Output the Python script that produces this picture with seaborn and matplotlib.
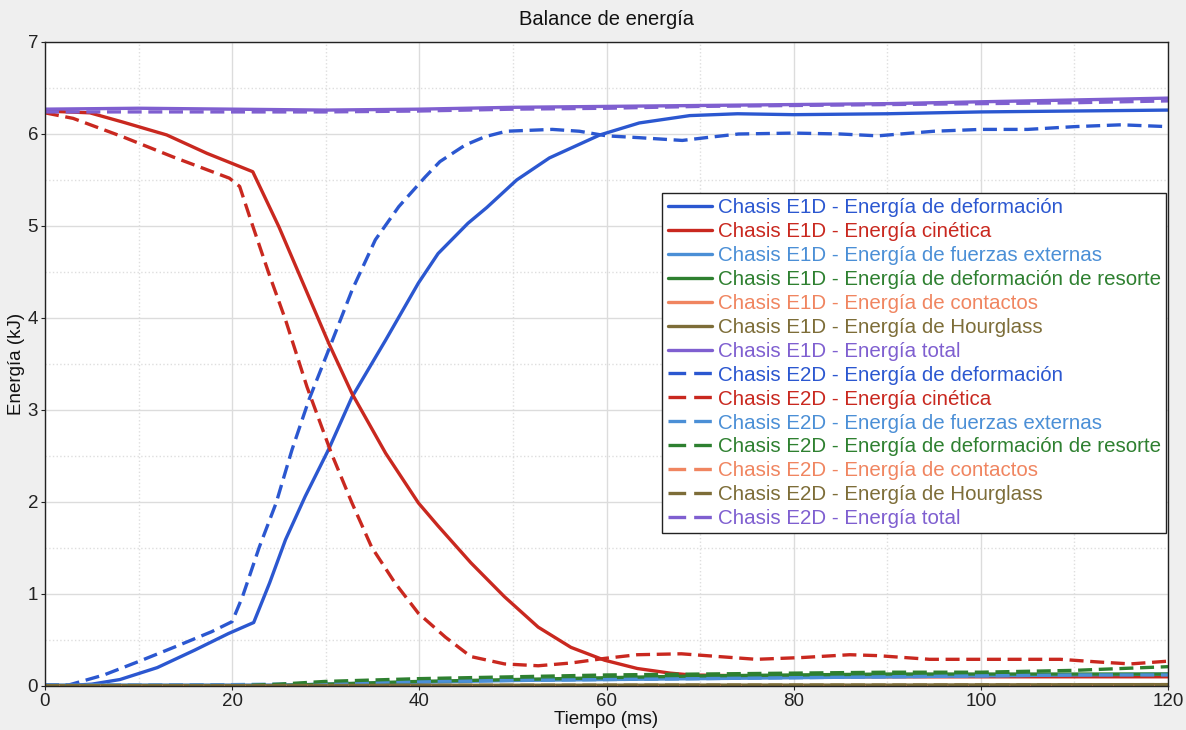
import matplotlib
matplotlib.use("Agg")
import matplotlib.pyplot as plt
from matplotlib.ticker import MultipleLocator
import seaborn as sns

# ---------------- data ----------------
t_def1 = [0, 2.5, 5, 8, 12, 16, 19.6, 22.3, 24, 25.7, 27.8, 30.3, 32.8, 36.4, 39.9, 42,
          45.2, 47.2, 50.4, 53.9, 59.3, 63.5, 68.9, 74, 80, 90, 100, 110, 120]
e_def1 = [0, 0.005, 0.02, 0.07, 0.2, 0.39, 0.57, 0.69, 1.12, 1.59, 2.06, 2.57, 3.14, 3.76, 4.38, 4.7,
          5.03, 5.2, 5.5, 5.74, 5.99, 6.12, 6.2, 6.22, 6.21, 6.22, 6.24, 6.25, 6.26]

t_def2 = [0, 2.5, 6.3, 10.1, 14, 17.8, 20, 21.1, 22.9, 24.7, 26.4, 28.2, 30.3, 32.8, 35.3, 37.8,
          40.6, 42.2, 44.9, 47, 49.3, 54.2, 57.1, 60, 63.5, 68.1, 70.6, 74.1, 80, 85, 89, 95,
          100, 105, 110, 115, 120]
e_def2 = [0.01, 0.01, 0.12, 0.27, 0.43, 0.59, 0.7, 0.97, 1.51, 1.99, 2.57, 3.11, 3.65, 4.3, 4.85, 5.21,
          5.53, 5.7, 5.88, 5.97, 6.03, 6.05, 6.03, 5.98, 5.96, 5.93, 5.96, 6.0, 6.01, 6.0, 5.98, 6.03,
          6.05, 6.05, 6.08, 6.1, 6.08]

t_kin1 = [0, 4.8, 8.3, 13, 17.3, 22.2, 25, 30.3, 32.8, 36.4, 39.9, 42, 45.5, 49.1, 52.7, 56.2,
          59.8, 63.3, 66.8, 69, 75, 80, 90, 100, 110, 120]
e_kin1 = [6.25, 6.23, 6.13, 5.99, 5.79, 5.59, 4.99, 3.73, 3.18, 2.53, 1.99, 1.74, 1.34, 0.97, 0.64, 0.42,
          0.28, 0.19, 0.14, 0.12, 0.11, 0.1, 0.1, 0.1, 0.1, 0.1]

t_kin2 = [0, 3, 8.3, 13.7, 19.7, 20.8, 22.1, 23.9, 25.7, 28, 30.6, 32.8, 34.9, 37.4, 39.9, 42.8,
          45.5, 49.1, 52.7, 56.2, 59.8, 63.3, 68, 72, 76, 81, 86, 89, 94.5, 102, 108.5, 112.7, 116, 120]
e_kin2 = [6.23, 6.17, 5.97, 5.75, 5.52, 5.43, 5.03, 4.49, 3.98, 3.25, 2.53, 1.99, 1.51, 1.12, 0.79, 0.53,
          0.32, 0.24, 0.22, 0.25, 0.3, 0.34, 0.35, 0.32, 0.29, 0.31, 0.34, 0.33, 0.29, 0.29, 0.29, 0.26, 0.24, 0.27]

t_tot = [0, 10, 20, 30, 40, 50, 60, 70, 80, 90, 100, 110, 120]
e_tot1 = [6.27, 6.28, 6.27, 6.26, 6.27, 6.29, 6.30, 6.31, 6.32, 6.33, 6.35, 6.37, 6.39]
e_tot2 = [6.24, 6.24, 6.24, 6.24, 6.25, 6.27, 6.28, 6.30, 6.31, 6.32, 6.33, 6.34, 6.36]

t_low = [0, 10, 20, 25, 30, 40, 50, 60, 70, 80, 90, 100, 110, 120]
e_ext1 = [0.01, 0.01, 0.01, 0.01, 0.02, 0.04, 0.06, 0.07, 0.08, 0.09, 0.10, 0.11, 0.12, 0.13]
e_ext2 = [0.01, 0.01, 0.015, 0.02, 0.03, 0.05, 0.06, 0.07, 0.08, 0.09, 0.10, 0.11, 0.12, 0.12]
e_spr1 = [0.0, 0.0, 0.0, 0.005, 0.02, 0.05, 0.07, 0.09, 0.11, 0.12, 0.13, 0.13, 0.13, 0.13]
e_spr2 = [0.0, 0.0, 0.0, 0.02, 0.05, 0.08, 0.10, 0.12, 0.13, 0.14, 0.15, 0.15, 0.17, 0.21]
e_con1 = [0.0, 0.0, 0.0, 0.0, 0.0, 0.0, 0.0, 0.0, 0.0, 0.0, 0.0, 0.0, 0.0, 0.0]
e_con2 = [0.0, 0.0, 0.0, 0.0, 0.0, 0.0, 0.0, 0.0, 0.0, 0.0, 0.0, 0.0, 0.0, 0.0]
e_hg1 = [0.005, 0.005, 0.005, 0.005, 0.006, 0.007, 0.008, 0.009, 0.01, 0.01, 0.01, 0.012, 0.014, 0.015]
e_hg2 = [0.005, 0.005, 0.005, 0.005, 0.006, 0.007, 0.008, 0.009, 0.01, 0.01, 0.01, 0.012, 0.014, 0.015]

energy_names = ["Energía de deformación", "Energía cinética", "Energía de fuerzas externas",
                "Energía de deformación de resorte", "Energía de contactos",
                "Energía de Hourglass", "Energía total"]
models = ["Chasis E1D", "Chasis E2D"]

series = {
    "Chasis E1D": [(t_def1, e_def1), (t_kin1, e_kin1), (t_low, e_ext1), (t_low, e_spr1),
                   (t_low, e_con1), (t_low, e_hg1), (t_tot, e_tot1)],
    "Chasis E2D": [(t_def2, e_def2), (t_kin2, e_kin2), (t_low, e_ext2), (t_low, e_spr2),
                   (t_low, e_con2), (t_low, e_hg2), (t_tot, e_tot2)],
}

colors = ["#2b57d0", "#c9281f", "#4b8fd6", "#2e8030", "#f08560", "#7d6d38", "#7f5fd0"]

# ---------------- figure ----------------
sns.set_theme(style="white")
plt.rcParams["font.family"] = ["Liberation Sans", "DejaVu Sans"]

fig = plt.figure(figsize=(11.86, 7.30), dpi=100, facecolor="#efefef")
ax = fig.add_axes([45 / 1186, 1 - 686 / 730, (1168 - 45) / 1186, (686 - 42) / 730])
ax.set_facecolor("white")

for m in models:
    ls = "-" if m == "Chasis E1D" else (0, (4.2, 2.0))
    for (tx, ey), name, c in zip(series[m], energy_names, colors):
        sns.lineplot(x=tx, y=ey, ax=ax, color=c, linewidth=2.4, linestyle=ls,
                     label=f"{m} - {name}", estimator=None, sort=False)

ax.set_xlim(0, 120)
ax.set_ylim(0, 7)
ax.xaxis.set_major_locator(MultipleLocator(20))
ax.xaxis.set_minor_locator(MultipleLocator(10))
ax.yaxis.set_major_locator(MultipleLocator(1))
ax.yaxis.set_minor_locator(MultipleLocator(0.5))
ax.grid(which="major", color="#dcdcdc", linewidth=1.0, linestyle="-")
ax.grid(which="minor", color="#dedede", linewidth=1.0, linestyle=":")
ax.set_axisbelow(True)

for s in ax.spines.values():
    s.set_color("#222222")
    s.set_linewidth(1.0)
ax.tick_params(axis="both", which="major", direction="out", length=3, width=0.8,
               labelsize=13.5, colors="#222222", pad=2, left=True, bottom=True)
ax.tick_params(which="minor", length=0)

ax.set_title("Balance de energía", fontsize=14.5, color="#111111", pad=12)
ax.set_xlabel("Tiempo (ms)", fontsize=13.5, color="#111111", labelpad=1)
ax.set_ylabel("Energía (kJ)", fontsize=13.5, color="#111111", labelpad=1.5)

leg = ax.legend(loc="upper right", bbox_to_anchor=(1166 / 1186, 1 - 193 / 730),
                bbox_transform=fig.transFigure, borderaxespad=0, fontsize=14.8,
                frameon=True, fancybox=False, edgecolor="#222222", framealpha=1,
                handlelength=2.15, handletextpad=0.3, labelspacing=0.24, borderpad=0.25)
leg.get_frame().set_linewidth(1.0)
for i, (txt, line) in enumerate(zip(leg.get_texts(), leg.get_lines())):
    txt.set_color(line.get_color())
    if i >= len(energy_names):
        line.set_linestyle((0, (5.3, 2.4)))

fig.savefig("out.png", dpi=100, facecolor=fig.get_facecolor())
